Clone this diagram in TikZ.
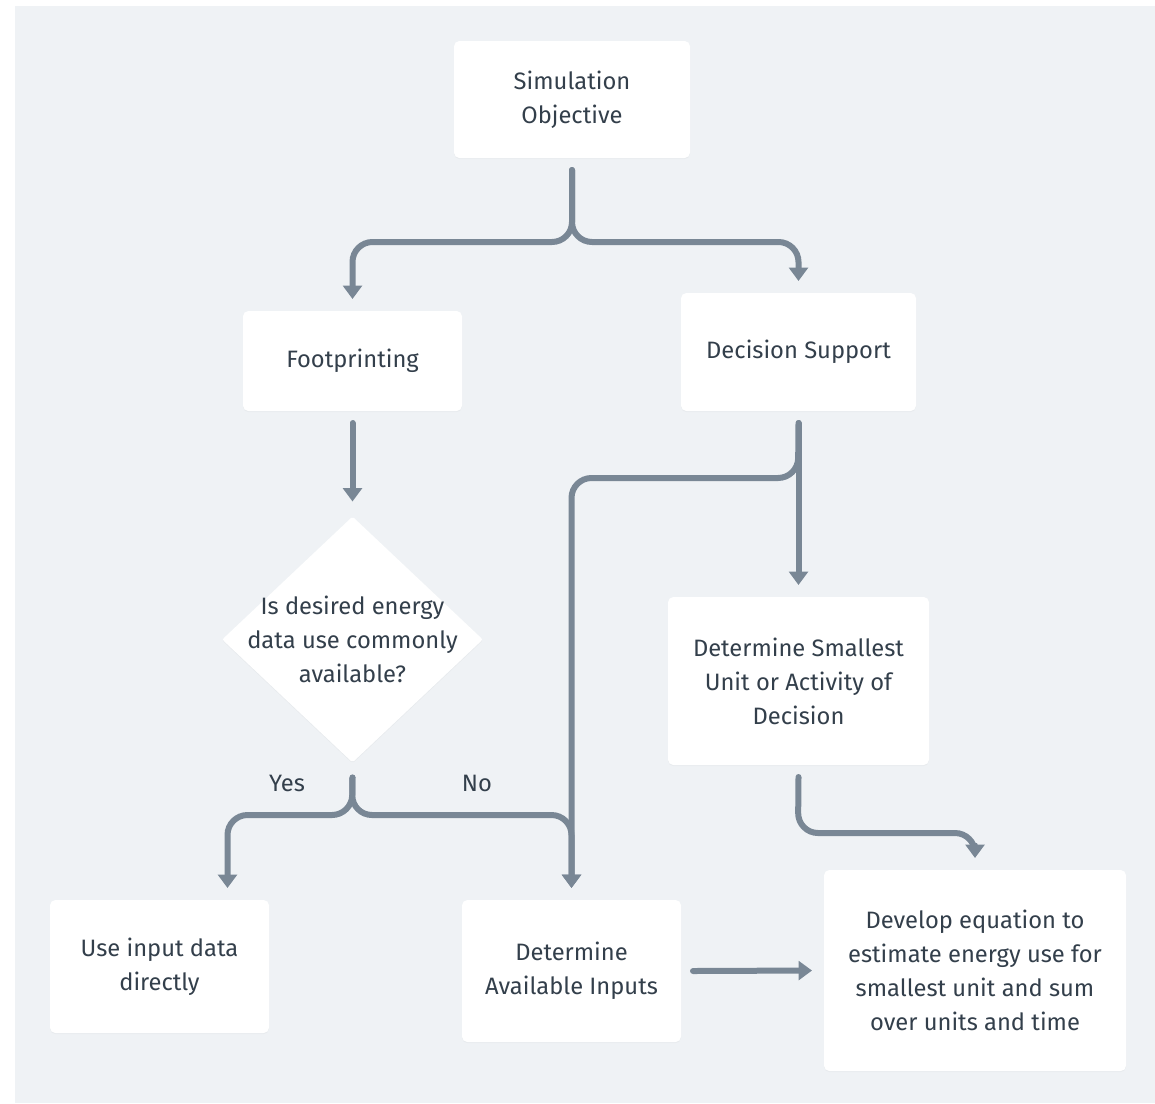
\documentclass[tikz,border=0pt]{standalone}
\usepackage{fontspec}
\setmainfont{Fira Sans}
\usetikzlibrary{arrows.meta,shapes.geometric,shadows}

\definecolor{panel}{HTML}{EFF2F5}
\definecolor{wire}{HTML}{798795}
\definecolor{ink}{HTML}{333F4B}

\tikzset{
	box/.style={fill=white,rounded corners=4pt,inner sep=0pt,outer sep=9pt,align=center,text=ink,font=\fontsize{17.8}{25.5}\selectfont,
		drop shadow={shadow xshift=0pt,shadow yshift=-0.8pt,opacity=0.06}},
	ask/.style={diamond,fill=white,rounded corners=1.5pt,inner sep=0pt,outer sep=8pt,minimum width=202pt,minimum height=191pt,
		drop shadow={shadow xshift=0pt,shadow yshift=-0.8pt,opacity=0.06}},
	word/.style={align=center,text=ink,font=\fontsize{17.8}{25.5}\selectfont,inner sep=0pt},
	conn/.style={draw=wire,line width=4.5pt,line cap=round,rounded corners=15pt,-{Triangle[width=14pt,length=10pt]}},
}

\begin{document}
\begin{tikzpicture}[x=0.75pt,y=-0.75pt]
	\useasboundingbox (0,0) rectangle (1155,1103);
	\fill[panel] (15,6) rectangle (1155,1103);

	% boxes
	\node[box,minimum width=177pt,minimum height=87.75pt] (obj) at (572,99.5) {Simulation\\Objective};
	\node[box,minimum width=164.25pt,minimum height=75pt] (foot) at (352.5,361) {Footprinting};
	\node[box,minimum width=176.25pt,minimum height=88.5pt] (dec) at (798.5,352) {Decision Support};
	\node[ask] (q) at (352.5,639.5) {};
	\node[word] (qtext) at (q.center) {Is desired energy\\data use commonly\\available?};
	\node[box,minimum width=195.75pt,minimum height=126pt] (small) at (798.5,681) {Determine Smallest\\Unit or Activity of\\Decision};
	\node[box,minimum width=164.25pt,minimum height=99.75pt] (use) at (159.5,966.5) {Use input data\\directly};
	\node[box,minimum width=164.25pt,minimum height=106.5pt] (avail) at (571.5,971) {Determine\\Available Inputs};
	\node[box,minimum width=226.5pt,minimum height=150.75pt] (dev) at (975,970.5) {Develop equation to\\estimate energy use for\\smallest unit and sum\\over units and time};

	\node[word] (yes) at (287,783) {Yes};
	\node[word] (no) at (477,783) {No};

	% forks
	\coordinate (f1) at (572,242);
	\coordinate (f2) at (352,815);
	\coordinate (f3) at (798,478);
	\coordinate (f4) at (798,833);

	\draw[conn] (obj.south) -- (f1) -| (foot.north);
	\draw[conn] (obj.south) -- (f1) -| (dec.north);
	\draw[conn] (foot.south) -- (q.north);
	\draw[conn] (q.south) -- (f2) -| ([xshift=51pt]use.north);
	\draw[conn] (q.south) -- (f2) -| (avail.north);
	\draw[conn] (dec.south) -- (small.north);
	\draw[conn] (dec.south) -- (f3) -| (avail.north);
	\draw[conn] (small.south) -- (f4) -| (dev.north);
	\draw[conn] (avail.east) -- (dev.west);
\end{tikzpicture}
\end{document}
